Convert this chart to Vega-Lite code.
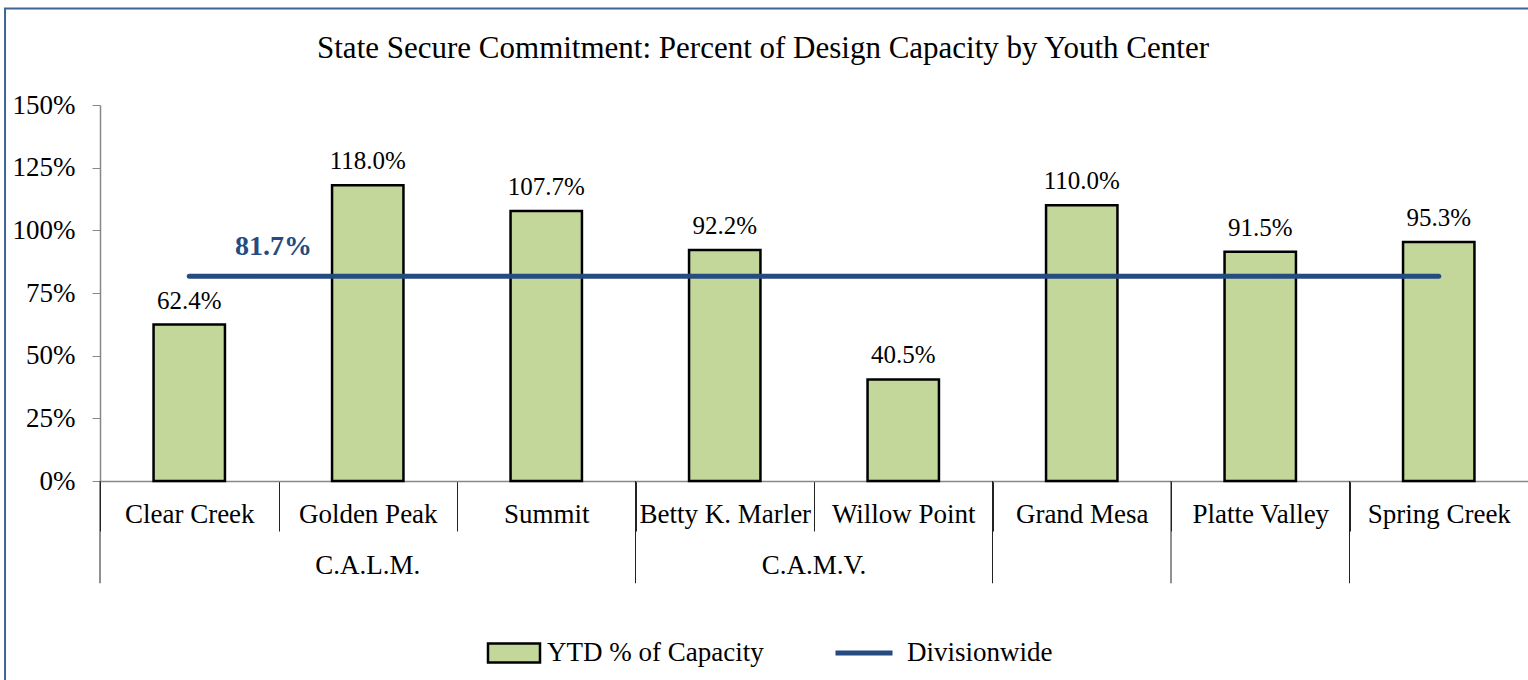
{
  "$schema": "https://vega.github.io/schema/vega-lite/v6.json",
  "autosize": {"type": "none"},
  "padding": {"left": 100, "top": 105, "right": 0, "bottom": 199},
  "width": 1428,
  "height": 376,
  "background": "white",
  "config": {
    "font": "Liberation Serif",
    "view": {"stroke": null}
  },
  "title": {
    "text": "State Secure Commitment: Percent of Design Capacity by Youth Center",
    "font": "Liberation Serif",
    "fontSize": 31,
    "fontWeight": "normal",
    "color": "black",
    "anchor": "middle",
    "frame": "group",
    "dx": -51,
    "offset": -58
  },
  "datasets": {
    "centers": [
      {"center": "Clear Creek", "group": "C.A.L.M.", "value": 0.624, "division": 0.817},
      {"center": "Golden Peak", "group": "C.A.L.M.", "value": 1.18, "division": 0.817},
      {"center": "Summit", "group": "C.A.L.M.", "value": 1.077, "division": 0.817},
      {"center": "Betty K. Marler", "group": "C.A.M.V.", "value": 0.922, "division": 0.817},
      {"center": "Willow Point", "group": "C.A.M.V.", "value": 0.405, "division": 0.817},
      {"center": "Grand Mesa", "group": "", "value": 1.10, "division": 0.817},
      {"center": "Platte Valley", "group": "", "value": 0.915, "division": 0.817},
      {"center": "Spring Creek", "group": "", "value": 0.953, "division": 0.817}
    ],
    "groupStarts": [
      {"center": "Clear Creek"},
      {"center": "Betty K. Marler"},
      {"center": "Grand Mesa"},
      {"center": "Platte Valley"},
      {"center": "Spring Creek"}
    ],
    "frame": [
      {"left": -0.0665, "right": 1.1, "top": 1.885, "bottom": -0.9}
    ]
  },
  "resolve": {"scale": {"x": "independent"}},
  "layer": [
    {
      "data": {"name": "centers"},
      "encoding": {
        "x": {
          "field": "center",
          "type": "nominal",
          "sort": null,
          "scale": {"paddingInner": 0, "paddingOuter": 0},
          "axis": {
            "title": null,
            "labelAngle": 0,
            "labelFont": "Liberation Serif",
            "labelFontSize": 27,
            "labelColor": "black",
            "labelPadding": -30,
            "tickBand": "extent",
            "tickSize": 50,
            "tickColor": "#222222",
            "tickWidth": 1,
            "domainColor": "#888888",
            "domainWidth": 1.5
          }
        }
      },
      "layer": [
        {
          "mark": {"type": "bar", "width": {"band": 0.4}, "stroke": "black", "strokeWidth": 2.5},
          "encoding": {
            "y": {
              "field": "value",
              "type": "quantitative",
              "scale": {"domain": [0, 1.5], "nice": false},
              "axis": {
                "title": null,
                "values": [0, 0.25, 0.5, 0.75, 1, 1.25, 1.5],
                "format": ".0%",
                "grid": false,
                "labelFont": "Liberation Serif",
                "labelFontSize": 27,
                "labelColor": "black",
                "labelPadding": 17,
                "tickSize": 8,
                "tickColor": "#888888",
                "domainColor": "#888888",
                "domainWidth": 1.5
              }
            },
            "fill": {
              "datum": "YTD % of Capacity",
              "type": "nominal",
              "scale": {"range": ["#C4D79B"]},
              "legend": {
                "title": null,
                "orient": "none",
                "legendX": 394,
                "legendY": 528,
                "symbolType": "M-1.4,-0.51H1.4V0.51H-1.4Z",
                "symbolSize": 1380,
                "symbolStrokeColor": "black",
                "symbolStrokeWidth": 2.5,
                "labelFont": "Liberation Serif",
                "labelFontSize": 27,
                "labelColor": "black",
                "labelLimit": 0,
                "labelOffset": 13
              }
            }
          }
        },
        {
          "mark": {"type": "text", "baseline": "bottom", "dy": -11, "fontSize": 25, "font": "Liberation Serif", "color": "black"},
          "encoding": {
            "y": {"field": "value", "type": "quantitative"},
            "text": {"field": "value", "type": "quantitative", "format": ".1%"}
          }
        },
        {
          "mark": {"type": "line", "strokeWidth": 5, "strokeCap": "round"},
          "encoding": {
            "y": {"field": "division", "type": "quantitative"},
            "stroke": {
              "datum": "Divisionwide",
              "type": "nominal",
              "scale": {"range": ["#254B80"]},
              "legend": {
                "title": null,
                "orient": "none",
                "legendX": 733,
                "legendY": 517,
                "symbolType": "stroke",
                "symbolSize": 3249,
                "symbolStrokeWidth": 5,
                "labelFont": "Liberation Serif",
                "labelFontSize": 27,
                "labelColor": "black",
                "labelLimit": 0,
                "labelOffset": 12
              }
            }
          }
        },
        {
          "transform": [{"filter": "datum.center === 'Golden Peak'"}],
          "mark": {"type": "text", "baseline": "bottom", "dy": -15, "dx": -5, "fontSize": 28, "fontWeight": "bold", "font": "Liberation Serif", "color": "#254B80"},
          "encoding": {
            "x": {"field": "center", "type": "nominal", "sort": null, "bandPosition": 0},
            "y": {"field": "division", "type": "quantitative"},
            "text": {"field": "division", "type": "quantitative", "format": ".1%"}
          }
        },
        {
          "data": {"name": "groupStarts"},
          "mark": {"type": "rule", "color": "#222222", "strokeWidth": 1},
          "encoding": {
            "x": {"field": "center", "type": "nominal", "sort": null, "bandPosition": 0},
            "y": {"datum": 0, "type": "quantitative"},
            "y2": {"datum": -0.408}
          }
        },
        {
          "transform": [{"filter": "datum.center === 'Golden Peak'"}],
          "mark": {"type": "text", "baseline": "middle", "fontSize": 27, "font": "Liberation Serif", "color": "black"},
          "encoding": {
            "y": {"datum": -0.34, "type": "quantitative"},
            "text": {"field": "group"}
          }
        },
        {
          "transform": [{"filter": "datum.center === 'Willow Point'"}],
          "mark": {"type": "text", "baseline": "middle", "fontSize": 27, "font": "Liberation Serif", "color": "black"},
          "encoding": {
            "x": {"field": "center", "type": "nominal", "sort": null, "bandPosition": 0},
            "y": {"datum": -0.34, "type": "quantitative"},
            "text": {"field": "group"}
          }
        }
      ]
    },
    {
      "data": {"name": "frame"},
      "mark": {"type": "rect", "fill": null, "stroke": "#3F6396", "strokeWidth": 2},
      "encoding": {
        "x": {"field": "left", "type": "quantitative", "scale": {"domain": [0, 1], "nice": false, "zero": false}, "axis": null},
        "x2": {"field": "right"},
        "y": {"field": "top", "type": "quantitative"},
        "y2": {"field": "bottom"}
      }
    }
  ]
}
